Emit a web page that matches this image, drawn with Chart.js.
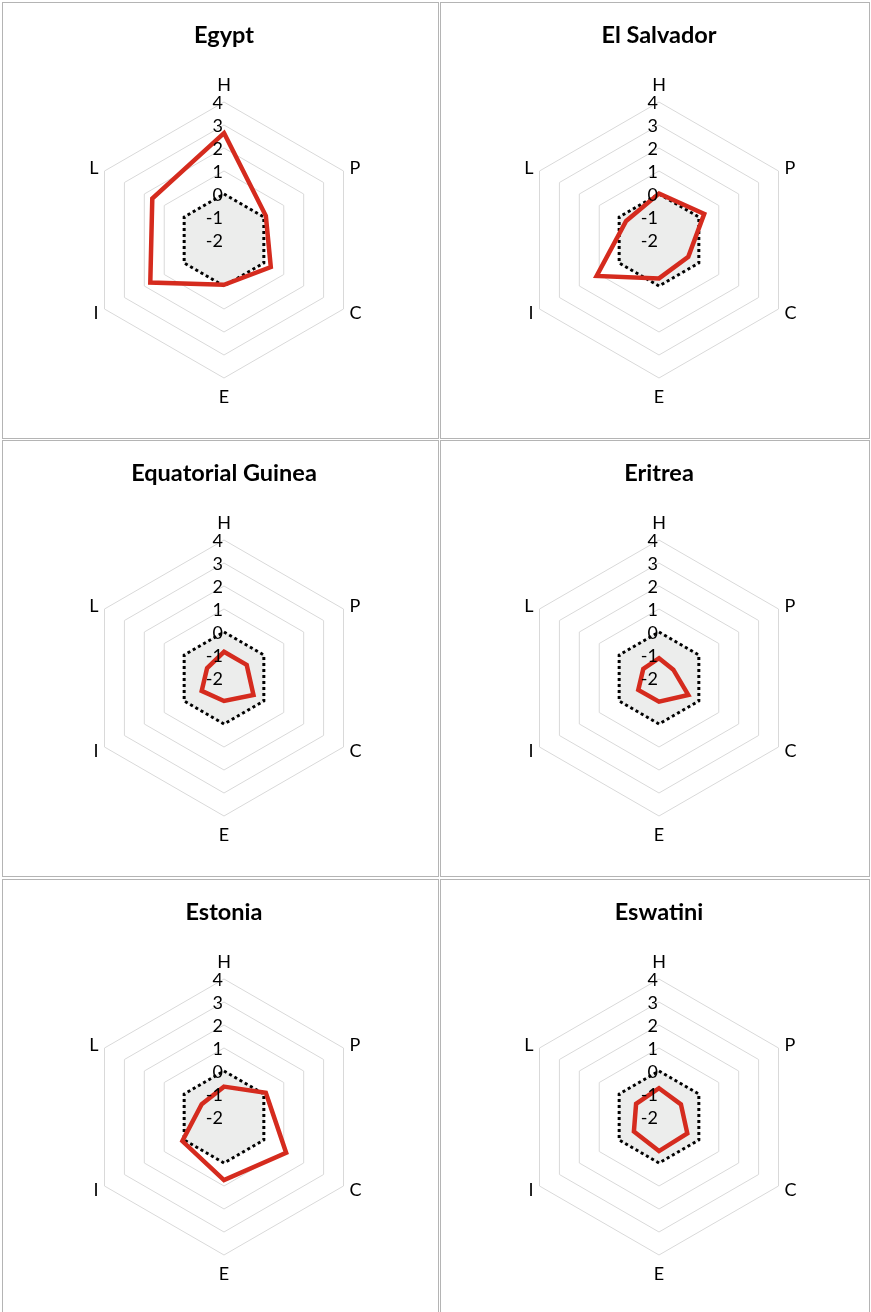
<!DOCTYPE html>
<html>
<head>
<meta charset="utf-8">
<script src="https://cdn.jsdelivr.net/npm/chart.js@4.4.0/dist/chart.umd.min.js"></script>
<style>
  html, body { margin: 0; padding: 0; background: #ffffff; }
  body { width: 871px; height: 1312px; position: relative; overflow: hidden; }
  .cell { position: absolute; box-sizing: border-box; border: 1px solid #b4b4b4; }
  canvas { position: absolute; }
</style>
</head>
<body>
<script>
// ---- data ----
const categories = ['H', 'P', 'C', 'E', 'I', 'L'];
const countries = ['Egypt', 'El Salvador', 'Equatorial Guinea', 'Eritrea', 'Estonia', 'Eswatini'];
const egypt       = [2.65, 0.10, 0.35, -0.05, 1.70, 1.60];
const elSalvador  = [0.02, 0.27, -0.53, -0.33, 1.13, -0.35];
const eqGuinea    = [-0.86, -0.86, -0.52, -1.00, -0.88, -1.15];
const eritrea     = [-1.14, -1.28, -0.53, -0.97, -0.96, -1.21];
const estonia     = [-0.68, 0.10, 1.12, 0.74, 0.09, -0.88];
const eswatini    = [-0.75, -0.90, -0.58, -0.52, -0.74, -0.85];
const baseline    = [0, 0, 0, 0, 0, 0];
const tickValues  = [-2, -1, 0, 1, 2, 3, 4];
const tickLabels  = ['-2', '-1', '0', '1', '2', '3', '4'];
const seriesList  = [egypt, elSalvador, eqGuinea, eritrea, estonia, eswatini];

// ---- layout ----
const colCenters = [224, 659];
const rowTops = [2, 440, 879];
const cells = [
  {l: 2, w: 437}, {l: 440, w: 430}
];
const rowHeights = [437, 437, 450];

rowTops.forEach((t, r) => {
  cells.forEach(c => {
    const d = document.createElement('div');
    d.className = 'cell';
    d.style.left = c.l + 'px';
    d.style.top = t + 'px';
    d.style.width = c.w + 'px';
    d.style.height = rowHeights[r] + 'px';
    document.body.appendChild(d);
  });
});

const FONT = 'Lato, "Open Sans", sans-serif';

const labelPlugin = {
  id: 'radarLabels',
  afterDatasetsDraw(chart) {
    const s = chart.scales.r;
    const ctx = chart.ctx;
    ctx.save();
    ctx.fillStyle = '#000000';
    ctx.font = '18px ' + FONT;
    // tick labels, right-aligned next to the vertical axis
    ctx.textAlign = 'right';
    ctx.textBaseline = 'middle';
    tickValues.forEach((v, k) => {
      const p = s.getPointPositionForValue(0, v);
      ctx.fillText(tickLabels[k], p.x - 1, p.y + 1);
    });
    // point labels
    categories.forEach((lab, i) => {
      const a = s.getIndexAngle(i);
      const sn = Math.sin(a);
      if (Math.abs(sn) < 0.01) {
        const p = s.getPointPosition(i, s.drawingArea + 18);
        ctx.textAlign = 'center';
        ctx.fillText(lab, p.x, p.y + 1);
      } else {
        const p = s.getPointPosition(i, s.drawingArea + 7);
        ctx.textAlign = sn > 0 ? 'left' : 'right';
        ctx.fillText(lab, p.x, p.y + 1);
      }
    });
    ctx.restore();
  }
};

countries.forEach((name, idx) => {
  const col = idx % 2, row = Math.floor(idx / 2);
  const cv = document.createElement('canvas');
  const W = 420, H = 436;
  cv.width = W; cv.height = H;
  cv.style.width = W + 'px'; cv.style.height = H + 'px';
  cv.style.left = (colCenters[col] - W / 2) + 'px';
  cv.style.top = rowTops[row] + 'px';
  document.body.appendChild(cv);

  new Chart(cv.getContext('2d'), {
    type: 'radar',
    data: {
      labels: categories,
      datasets: [
        {
          label: name,
          data: seriesList[idx],
          borderColor: '#d52b1e',
          borderWidth: 4.5,
          pointRadius: 0,
          fill: false,
          borderJoinStyle: 'miter',
          tension: 0
        },
        {
          label: 'zero',
          data: baseline,
          borderColor: '#000000',
          borderWidth: 3,
          borderDash: [3, 3],
          backgroundColor: '#ecedec',
          pointRadius: 0,
          fill: 'start',
          tension: 0
        }
      ]
    },
    options: {
      responsive: false,
      animation: false,
      events: [],
      layout: { padding: { left: 72, right: 72, top: 0, bottom: 60 } },
      plugins: {
        legend: { display: false },
        tooltip: { enabled: false },
        title: {
          display: true,
          text: name,
          color: '#000000',
          font: { family: FONT, size: 23.5, weight: 'bold', lineHeight: 1.2 },
          padding: { top: 19, bottom: 52.8 }
        }
      },
      scales: {
        r: {
          min: -2,
          max: 4,
          ticks: { stepSize: 1, display: false },
          angleLines: { display: false },
          grid: { color: '#d9d9d9', lineWidth: 1, circular: false },
          pointLabels: { display: false }
        }
      }
    },
    plugins: [labelPlugin]
  });
});
</script>
</body>
</html>
